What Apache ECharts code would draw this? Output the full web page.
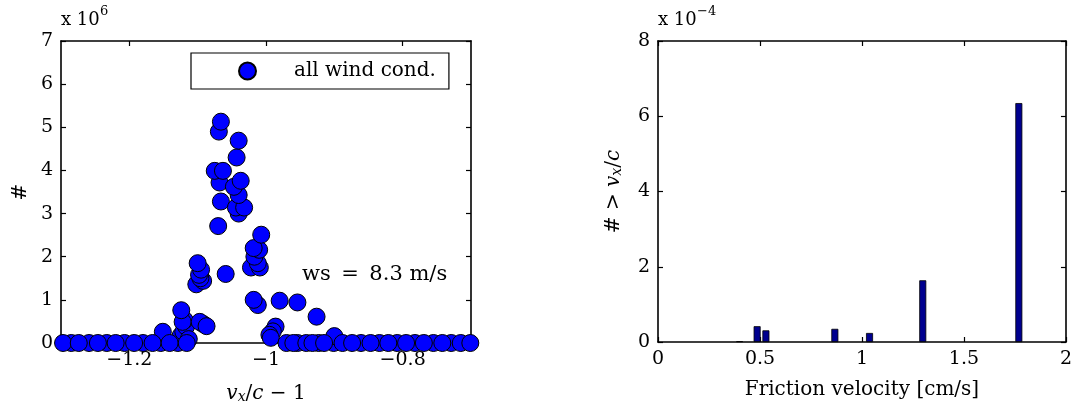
<!DOCTYPE html>
<html>
<head>
<meta charset="utf-8">
<script src="https://cdn.jsdelivr.net/npm/echarts@6/dist/echarts.min.js"></script>
<style>
  html, body { margin: 0; padding: 0; background: #fff; }
  #chart { width: 1075px; height: 412px; }
</style>
</head>
<body>
<div id="chart"></div>
<script>
// Histogram of velocity offsets v_x/c - 1 (counts in units of 1e6), all wind conditions
const vxOffset = [
  -1.285, -1.259, -1.233, -1.207, -1.180, -1.154, -1.129,
  -0.954, -0.923, -0.901, -0.861, -0.834, -0.808, -0.782, -0.755, -0.729,
  -1.151, -1.125, -1.121, -1.117, -1.119, -1.122, -1.124, -1.113,
  -1.092, -1.097, -1.087,
  -1.102, -1.092, -1.096, -1.098, -1.095, -1.100,
  -1.059, -1.070, -1.066, -1.068, -1.075, -1.063, -1.069, -1.066,
  -1.040, -1.044, -1.032, -1.040, -1.047, -1.037, -1.043, -1.040,
  -1.022, -1.009, -1.012, -1.017, -1.010, -1.018, -1.007,
  -1.012, -1.018, -0.980, -0.954, -0.926,
  -0.986, -0.990, -0.995, -0.993, -0.900,
  -1.297, -1.274, -1.246, -1.220, -1.193, -1.166, -1.141, -1.116,
  -0.970, -0.960, -0.941, -0.932, -0.915, -0.888, -0.874, -0.847,
  -0.821, -0.795, -0.769, -0.742, -0.715, -0.701
];
const counts = [
  0, 0, 0, 0, 0, 0, 0,
  0, 0, 0, 0, 0, 0, 0, 0, 0,
  0.26, 0.17, 0.26, 0.38, 0.53, 0.49, 0.76, 0.09,
  0.44, 0.49, 0.39,
  1.36, 1.44, 1.50, 1.58, 1.70, 1.85,
  1.60, 2.71, 3.28, 3.72, 3.99, 3.99, 4.90, 5.13,
  3.00, 3.14, 3.14, 3.43, 3.62, 3.76, 4.30, 4.69,
  1.75, 1.75, 1.85, 2.00, 2.16, 2.20, 2.51,
  0.88, 1.00, 0.98, 0.94, 0.61,
  0.38, 0.27, 0.19, 0.12, 0.16,
  0, 0, 0, 0, 0, 0, 0, 0,
  0, 0, 0, 0, 0, 0, 0, 0,
  0, 0, 0, 0, 0, 0
];
const offsetTicks = [-1.2, -1.0, -0.8];

// Fraction exceeding v_x/c per friction velocity (units of 1e-4)
const frictionVelocity = [0.40, 0.486, 0.529, 0.867, 1.037, 1.298, 1.769];
const exceedance = [0.02, 0.42, 0.31, 0.35, 0.24, 1.64, 6.35];

const FONT = 'DejaVu Serif';
const chart = echarts.init(document.getElementById('chart'), null, { renderer: 'canvas' });

const lineStyle = { color: '#000', width: 1.6 };
const axisLine = { show: true, onZero: false, lineStyle };
const tickIn = { show: true, inside: true, length: 5, lineStyle: { color: '#000', width: 1.2 } };
const labelStyle = { color: '#000', fontFamily: FONT, fontSize: 19, margin: 8 };
const nameStyleBase = { color: '#000', fontFamily: FONT, fontSize: 20 };
const mathRich = {
  n: { fontFamily: FONT, fontSize: 20, color: '#000' },
  i: { fontFamily: FONT, fontSize: 20, fontStyle: 'italic', color: '#000' },
  sub: { fontFamily: FONT, fontSize: 14, fontStyle: 'italic', color: '#000', padding: [6, 0, 0, 0] }
};
const fmtMinus = v => String(Math.round(v * 10) / 10).replace('-', '\u2212');

const scatterData = vxOffset.map((x, i) => [x, counts[i]]);
const barData = frictionVelocity.map((x, i) => [x, exceedance[i]]);

function label(text, x, y, size, va) {
  return {
    type: 'text', x: x, y: y, silent: true,
    style: { text: text, fill: '#000', font: size + 'px "DejaVu Serif"', align: 'left', verticalAlign: va }
  };
}

chart.setOption({
  animation: false,
  backgroundColor: '#fff',
  grid: [
    { left: 61, top: 41, width: 410, height: 302 },
    { left: 658, top: 41, width: 410, height: 301 }
  ],
  legend: {
    data: [{ name: 'all wind cond.', icon: 'circle' }],
    left: 191, top: 53,
    itemWidth: 17, itemHeight: 17,
    padding: [8, 13, 8, 47],
    backgroundColor: '#fff', borderColor: '#000', borderWidth: 1.2,
    textStyle: { color: '#000', fontFamily: FONT, fontSize: 20, padding: [0, 0, 0, 33] }
  },
  xAxis: [
    {
      gridIndex: 0, type: 'value', min: -1.3, max: -0.7, position: 'bottom',
      axisLine, splitLine: { show: false },
      axisTick: Object.assign({ customValues: offsetTicks }, tickIn),
      axisLabel: Object.assign({ customValues: offsetTicks, formatter: fmtMinus }, labelStyle),
      name: '{i|v}{sub|x}{n|/}{i|c}{n| \u2212 1}',
      nameLocation: 'middle', nameGap: 41,
      nameTextStyle: Object.assign({ rich: mathRich }, nameStyleBase)
    },
    {
      gridIndex: 0, type: 'value', min: -1.3, max: -0.7, position: 'top',
      axisLine, splitLine: { show: false },
      axisTick: Object.assign({ customValues: offsetTicks }, tickIn),
      axisLabel: { show: false }
    },
    {
      gridIndex: 1, type: 'value', min: 0, max: 2, interval: 0.5, position: 'bottom',
      axisLine, splitLine: { show: false },
      axisTick: tickIn, axisLabel: labelStyle,
      name: 'Friction velocity [cm/s]',
      nameLocation: 'middle', nameGap: 38,
      nameTextStyle: nameStyleBase
    },
    {
      gridIndex: 1, type: 'value', min: 0, max: 2, interval: 0.5, position: 'top',
      axisLine, splitLine: { show: false },
      axisTick: tickIn, axisLabel: { show: false }
    }
  ],
  yAxis: [
    {
      gridIndex: 0, type: 'value', min: 0, max: 7, interval: 1, position: 'left',
      axisLine, splitLine: { show: false },
      axisTick: tickIn, axisLabel: labelStyle,
      name: '#', nameLocation: 'middle', nameGap: 30, nameRotate: 90,
      nameTextStyle: nameStyleBase
    },
    {
      gridIndex: 0, type: 'value', min: 0, max: 7, interval: 1, position: 'right',
      axisLine, splitLine: { show: false },
      axisTick: tickIn, axisLabel: { show: false }
    },
    {
      gridIndex: 1, type: 'value', min: 0, max: 8, interval: 2, position: 'left',
      axisLine, splitLine: { show: false },
      axisTick: tickIn, axisLabel: labelStyle,
      name: '{n|# > }{i|v}{sub|x}{n|/}{i|c}', nameLocation: 'middle', nameGap: 34, nameRotate: 90,
      nameTextStyle: Object.assign({ rich: mathRich }, nameStyleBase)
    },
    {
      gridIndex: 1, type: 'value', min: 0, max: 8, interval: 2, position: 'right',
      axisLine, splitLine: { show: false },
      axisTick: tickIn, axisLabel: { show: false }
    }
  ],
  graphic: [
    label('x 10', 61, 29, 18, 'bottom'),
    label('6', 100, 18, 13, 'bottom'),
    label('x 10', 658, 29, 18, 'bottom'),
    label('\u22124', 697, 18, 13, 'bottom'),
    label('ws\u2002=\u20028.3 m/s', 302, 275, 21, 'middle')
  ],
  series: [
    {
      name: 'all wind cond.', type: 'scatter', xAxisIndex: 0, yAxisIndex: 0,
      data: scatterData, symbol: 'circle', symbolSize: 17, clip: false,
      itemStyle: { color: '#0000ff', borderColor: '#000', borderWidth: 1, opacity: 1 }
    },
    {
      name: 'exceedance', type: 'bar', xAxisIndex: 2, yAxisIndex: 2,
      data: barData, barWidth: 7,
      itemStyle: { color: '#00008f', borderColor: '#000', borderWidth: 0.8 }
    }
  ]
});
</script>
</body>
</html>
